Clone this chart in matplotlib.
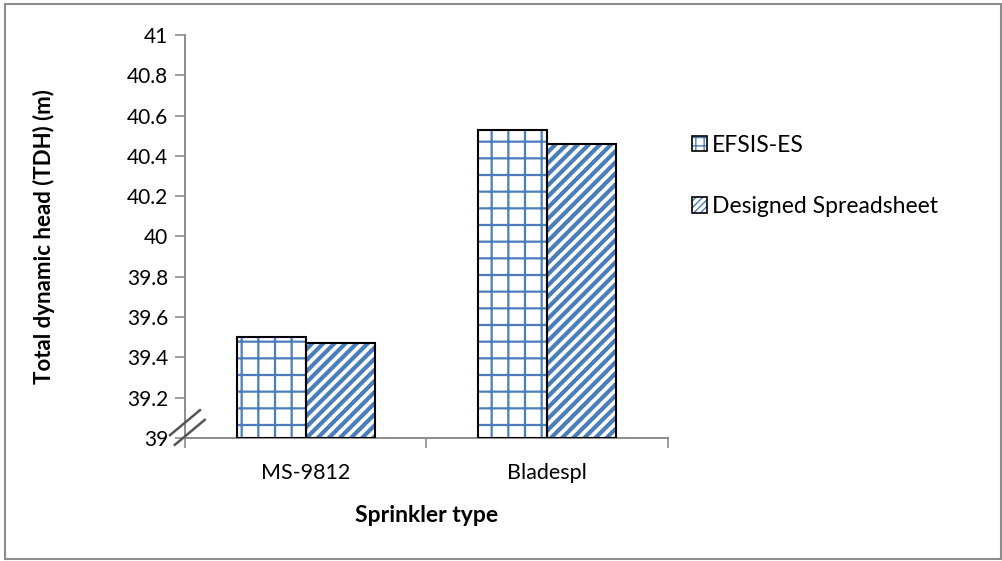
import matplotlib
matplotlib.use("Agg")
import matplotlib.pyplot as plt
import numpy as np
from matplotlib.patches import Patch, Rectangle
from matplotlib.legend_handler import HandlerTuple

categories = ["MS-9812", "Bladespl"]
series_names = ["EFSIS-ES", "Designed Spreadsheet"]
efsis_es = [39.50, 40.53]
designed = [39.47, 40.46]
y_ticks = [39, 39.2, 39.4, 39.6, 39.8, 40, 40.2, 40.4, 40.6, 40.8, 41]

BLUE = "#4a7ebb"
AXIS_GRAY = "#8c8c8c"
plt.rcParams["font.family"] = ["Lato", "DejaVu Sans"]

fig = plt.figure(figsize=(10.03, 5.61), dpi=100)
ax = fig.add_axes([0.1844, 0.2193, 0.4816, 0.7183])

x = np.arange(len(categories))
w = 0.286
hatches = ["+", "///"]
hatch_lw = [1.6, 3.0]
handles = []
for i, (vals, name) in enumerate(zip([efsis_es, designed], series_names)):
    pos = x - w / 2 + i * w
    with plt.rc_context({"hatch.linewidth": hatch_lw[i]}):
        hb = ax.bar(pos, np.array(vals) - 39, width=w, bottom=39, color="white",
                    edgecolor=BLUE, linewidth=0, hatch=hatches[i], zorder=2)
        for p in hb:
            if hasattr(p, "set_hatch_linewidth"):
                p.set_hatch_linewidth(hatch_lw[i])
    ax.bar(pos, np.array(vals) - 39, width=w, bottom=39, facecolor="none",
           edgecolor="black", linewidth=1.5, zorder=3)
    hp = Patch(facecolor="white", edgecolor=BLUE, linewidth=0, hatch=["++", "/////"][i])
    if hasattr(hp, "set_hatch_linewidth"):
        hp.set_hatch_linewidth([1.2, 2.6][i])
    op = Patch(facecolor="none", edgecolor="black", linewidth=1.2)
    handles.append((hp, op))

ax.set_xlim(-0.5, 1.5)
ax.set_ylim(39, 41)
ax.set_yticks(y_ticks)
ax.set_yticklabels([f"{t:g}" for t in y_ticks])
ax.set_xticks(x)
ax.set_xticklabels(categories)
ax.set_xticks([-0.5, 0.5, 1.5], minor=True)
ax.tick_params(axis="x", which="major", length=0, pad=18, labelsize=15.5)
ax.tick_params(axis="x", which="minor", length=7, width=1.2, color=AXIS_GRAY, direction="out")
ax.tick_params(axis="y", length=7, width=1.2, color=AXIS_GRAY, direction="out", labelsize=15, pad=5)

for s in ["top", "right"]:
    ax.spines[s].set_visible(False)
for s in ["left", "bottom"]:
    ax.spines[s].set_color(AXIS_GRAY)
    ax.spines[s].set_linewidth(1.4)

ax.set_ylabel("Total dynamic head (TDH) (m)", fontsize=16, fontweight="bold", labelpad=52)
ax.set_xlabel("Sprinkler type", fontsize=16.5, fontweight="bold", labelpad=16)

# axis break marks on the y axis
ax.plot([-0.031, 0.031], [0.007, 0.069], transform=ax.transAxes,
        color="#555555", lw=1.8, clip_on=False, zorder=5)
ax.plot([-0.021, 0.041], [-0.017, 0.045], transform=ax.transAxes,
        color="#555555", lw=1.8, clip_on=False, zorder=5)

ax.legend(handles, series_names, handler_map={tuple: HandlerTuple(ndivide=1)},
          loc="upper left", bbox_to_anchor=(1.03, 0.775), frameon=False, fontsize=16.5,
          handlelength=0.65, handleheight=0.65, handletextpad=0.25, labelspacing=1.75,
          borderaxespad=0)

fig.patches.append(Rectangle((0.005, 0.004), 0.993, 0.988, transform=fig.transFigure,
                             fill=False, edgecolor=AXIS_GRAY, linewidth=1.5))

fig.savefig("out.png", dpi=100)
